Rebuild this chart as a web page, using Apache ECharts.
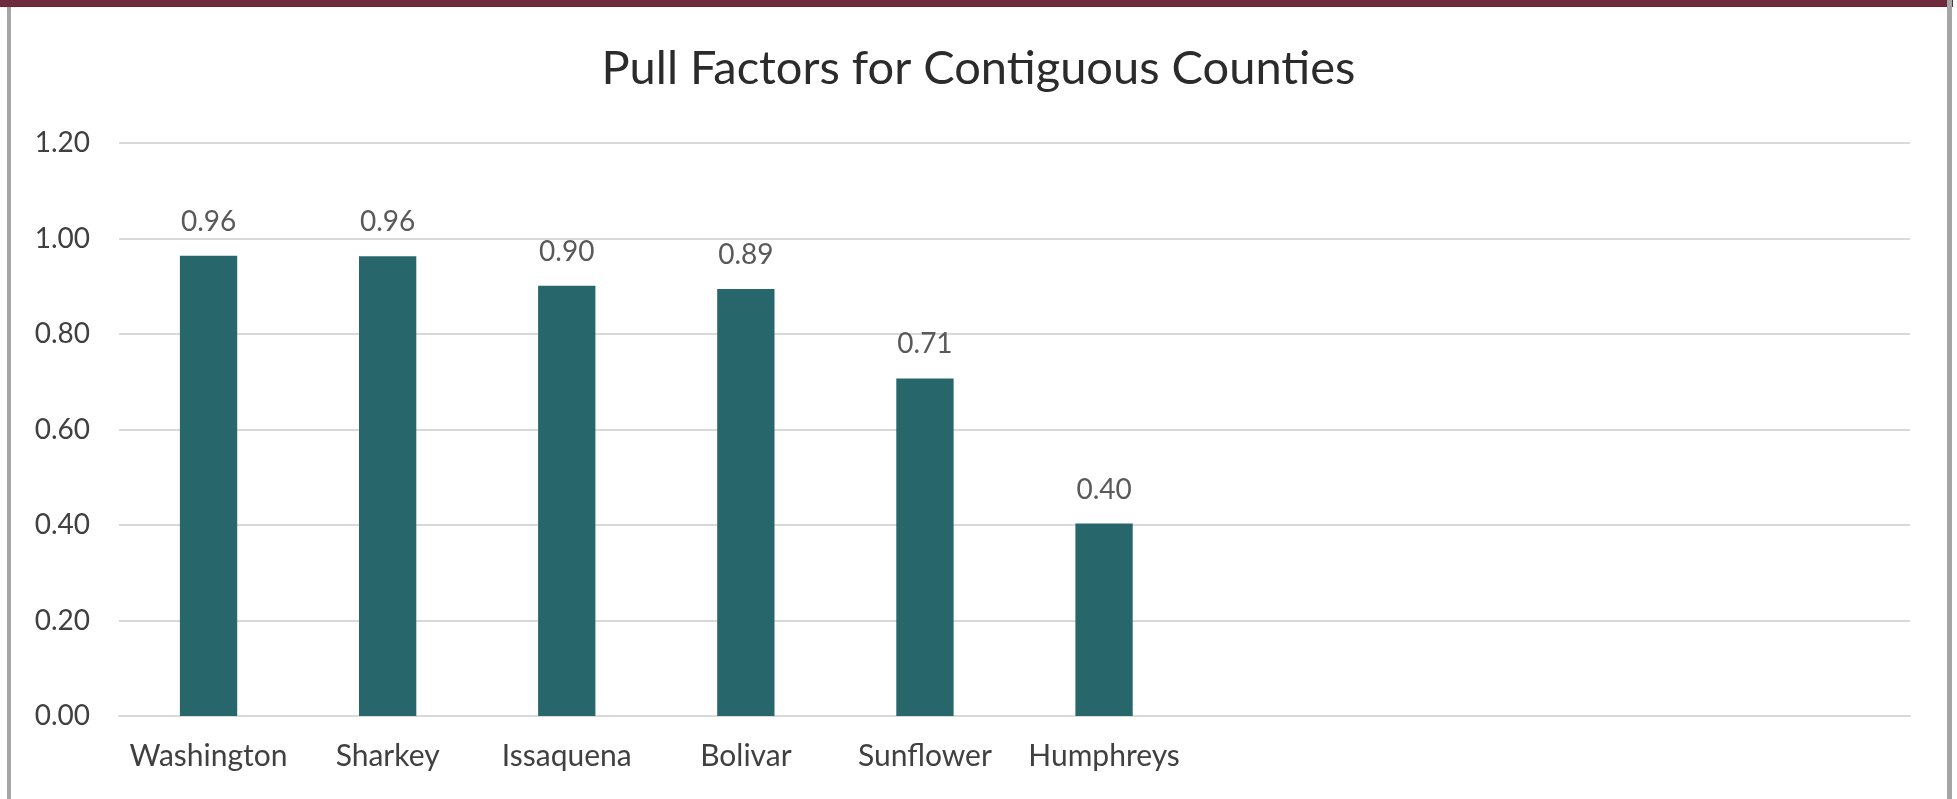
<!DOCTYPE html>
<html>
<head>
<meta charset="utf-8">
<script src="https://cdn.jsdelivr.net/npm/echarts@6/dist/echarts.min.js"></script>
<style>
  html, body { margin: 0; padding: 0; background: #ffffff; }
  #wrap { position: relative; width: 1957px; height: 799px; overflow: hidden; background: #fff; }
  #topbar { position: absolute; left: 0; top: 0; width: 1953px; height: 7px; background: #6e2b3e; border-bottom: 1px solid #7b1d24; box-sizing: border-box; }
  #lb { position: absolute; left: 7px; top: 7px; width: 4px; height: 792px; background: #a6a6a6; }
  #rb { position: absolute; left: 1947px; top: 0px; width: 5px; height: 799px; background: #a6a6a6; }
  #chart { position: absolute; left: 0; top: 0; width: 1957px; height: 799px; }
</style>
</head>
<body>
<div id="wrap">
  <div id="chart"></div>
  <div id="topbar"></div>
  <div id="lb"></div>
  <div id="rb"></div>
</div>
<script>
const titleText = 'Pull Factors for Contiguous Counties';
const categories = ['Washington', 'Sharkey', 'Issaquena', 'Bolivar', 'Sunflower', 'Humphreys', '', '', '', ''];
const pullFactors = [0.964, 0.963, 0.901, 0.894, 0.707, 0.403, null, null, null, null];
const yMin = 0;
const yMax = 1.2;
const yStep = 0.2;

const chart = echarts.init(document.getElementById('chart'), null, { renderer: 'canvas' });
const FONT = 'Lato';
chart.setOption({
  animation: false,
  backgroundColor: 'transparent',
  title: {
    text: titleText,
    left: 'center',
    top: 40,
    textStyle: { fontFamily: FONT, fontSize: 47, fontWeight: 'normal', color: '#2b2b2b' }
  },
  grid: { left: 119, right: 47, top: 143, bottom: 83, containLabel: false },
  xAxis: {
    type: 'category',
    data: categories,
    axisLine: { show: true, lineStyle: { color: '#d9d9d9', width: 2 } },
    axisTick: { show: false },
    axisLabel: { fontFamily: FONT, fontSize: 30, color: '#404040', margin: 25, interval: 0 }
  },
  yAxis: {
    type: 'value',
    min: yMin,
    max: yMax,
    interval: yStep,
    axisLine: { show: false },
    axisTick: { show: false },
    splitLine: { lineStyle: { color: '#d9d9d9', width: 2 } },
    axisLabel: { fontFamily: FONT, fontSize: 28, color: '#404040', margin: 29, formatter: v => v.toFixed(2) }
  },
  series: [{
    type: 'bar',
    data: pullFactors,
    barWidth: '32%',
    itemStyle: { color: '#27676b' },
    label: {
      show: true,
      position: 'top',
      distance: 20,
      fontFamily: FONT,
      fontSize: 28,
      color: '#595959',
      formatter: p => p.value == null ? '' : p.value.toFixed(2)
    }
  }]
});
</script>
</body>
</html>
